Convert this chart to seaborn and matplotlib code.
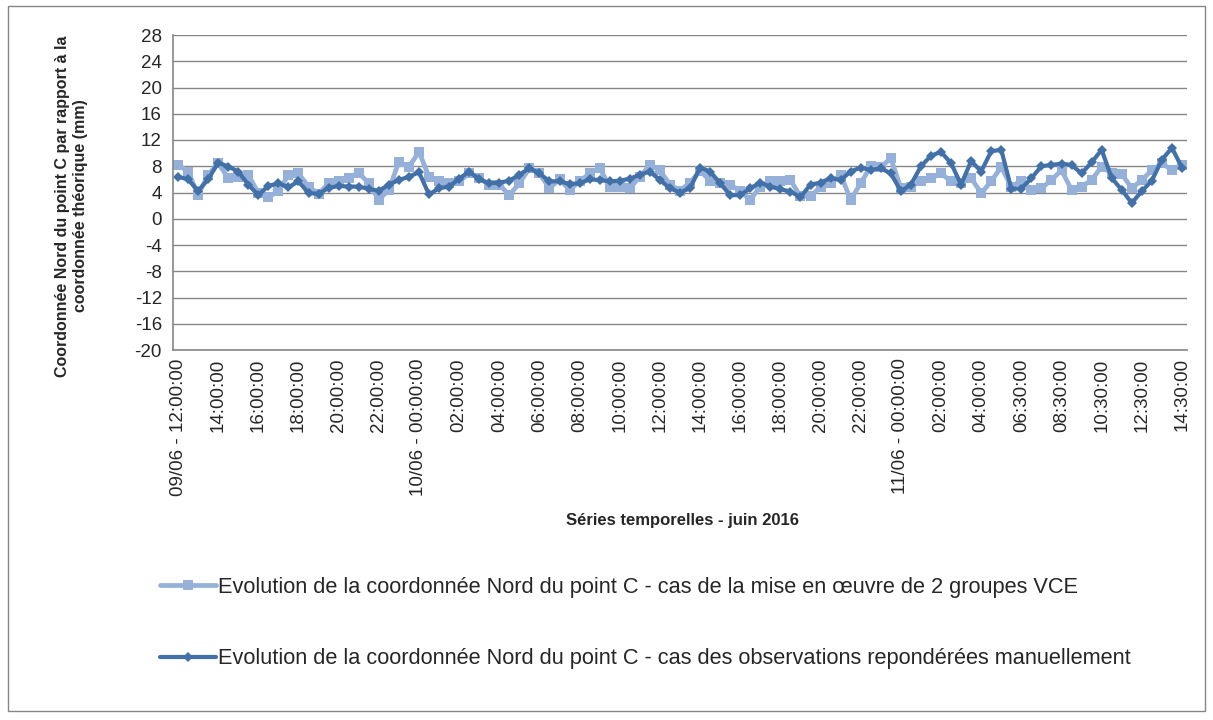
import matplotlib
matplotlib.use("Agg")
import matplotlib.pyplot as plt
from matplotlib.patches import Rectangle
from matplotlib.lines import Line2D
import seaborn as sns
import pandas as pd
import numpy as np

sns.set_style("white")
plt.rcParams["font.family"] = ["Liberation Sans", "DejaVu Sans"]
plt.rcParams["axes.unicode_minus"] = False

# ── Data (mm) ────────────────────────────────────────────────────────────────
times = pd.date_range("2016-06-09 12:00", "2016-06-11 14:30", freq="30min")
times = times.drop(pd.Timestamp("2016-06-11 05:30"))   # missing epoch

nord_vce = [
    8.2, 7.2, 3.6, 6.7, 8.45, 6.2, 6.4, 6.7, 3.9, 3.3,
    4.2, 6.7, 6.9, 4.9, 3.8, 5.4, 5.8, 6.2, 7.0, 5.4,
    2.9, 4.4, 8.7, 7.9, 10.2, 6.4, 5.7, 5.4, 5.7, 6.9,
    6.2, 5.2, 5.2, 3.6, 5.4, 7.7, 6.9, 4.65, 6.0, 4.4,
    5.7, 6.9, 7.7, 4.9, 4.9, 4.65, 6.4, 8.2, 7.4, 5.2,
    4.3, 5.5, 7.3, 5.8, 5.4, 5.2, 4.2, 2.9, 4.9, 5.8,
    5.7, 5.9, 3.4, 3.4, 4.9, 5.4, 6.7, 2.9, 5.4, 8.0,
    7.9, 9.2, 4.65, 4.9, 5.7, 6.2, 6.9, 5.7, 5.4, 6.2,
    3.9, 5.7, 7.9, 4.9, 5.8, 4.4, 4.65, 5.9, 7.4, 4.4,
    4.9, 5.9, 7.95, 6.9, 6.8, 4.65, 5.9, 7.4, 8.45, 7.4,
    8.2,
]
nord_manuel = [
    6.4, 6.0, 4.25, 6.0, 8.55, 7.95, 7.2, 5.2, 3.6, 5.0,
    5.4, 4.8, 5.7, 3.9, 3.8, 4.7, 5.0, 4.9, 4.9, 4.55,
    4.25, 5.2, 5.9, 6.4, 7.1, 3.7, 4.65, 4.9, 6.1, 7.2,
    6.0, 5.4, 5.5, 5.8, 6.7, 7.7, 6.9, 5.7, 5.7, 5.3,
    5.4, 6.0, 5.9, 5.7, 5.8, 6.1, 6.7, 7.2, 5.9, 4.65,
    4.0, 4.65, 7.8, 7.2, 5.4, 3.6, 3.6, 4.65, 5.5, 4.9,
    4.5, 4.15, 3.3, 5.2, 5.5, 6.2, 5.9, 7.2, 7.8, 7.4,
    7.7, 6.9, 4.2, 5.2, 8.0, 9.6, 10.2, 8.45, 5.2, 8.8,
    7.2, 10.3, 10.5, 4.6, 4.6, 6.2, 8.0, 8.2, 8.4, 8.2,
    6.9, 8.6, 10.5, 6.2, 4.4, 2.4, 4.2, 5.8, 9.0, 10.8,
    7.8,
]
label_vce = "Evolution de la coordonnée Nord du point C - cas de la mise en œuvre de 2 groupes VCE"
label_manuel = "Evolution de la coordonnée Nord du point C - cas des observations repondérées manuellement"

df = pd.DataFrame({"pos": np.arange(len(times)), "vce": nord_vce, "manuel": nord_manuel})

col_light = "#95B1D9"
col_dark = "#4270A8"
grid_col = "#868686"

W, H = 1213, 720
fig = plt.figure(figsize=(W / 100, H / 100), dpi=100)
ax = fig.add_axes([173 / W, 1 - 350 / H, (1187 - 173) / W, (350 - 35) / H])

sns.lineplot(data=df, x="pos", y="vce", ax=ax, color=col_light, linewidth=3.4,
             marker="s", markersize=6.5, markeredgewidth=0)
sns.lineplot(data=df, x="pos", y="manuel", ax=ax, color=col_dark, linewidth=3.0,
             marker="D", markersize=5, markeredgewidth=0)

# ── Axes ─────────────────────────────────────────────────────────────────────
ax.set_ylim(-20, 28)
ax.set_yticks(range(-20, 29, 4))
ax.set_xlim(-0.5, len(times) - 0.5)
major = list(range(0, len(times), 4))
ticklabels = []
for i in major:
    t = times[i]
    s = t.strftime("%H:%M:%S")
    if i == 0 or (t.hour == 0 and t.minute == 0):
        s = t.strftime("%d/%m - ") + s
    ticklabels.append(s)
ax.set_xticks(major)
ax.set_xticklabels(ticklabels, rotation=90, va="top", ha="center")
ax.set_xticks(np.arange(-0.5, len(times), 1), minor=True)
ax.tick_params(axis="x", which="major", length=0, pad=6, labelsize=13.5)
ax.tick_params(axis="x", which="minor", length=5, width=1, color=grid_col, direction="out")
ax.tick_params(axis="y", length=5, width=1, color=grid_col, direction="out", pad=3, labelsize=13.5)
ax.yaxis.grid(True, color=grid_col, linewidth=1)
ax.set_axisbelow(True)
for side in ["top", "right"]:
    ax.spines[side].set_visible(False)
for side in ["left", "bottom"]:
    ax.spines[side].set_color(grid_col)
    ax.spines[side].set_linewidth(1.2)
ax.set_xlabel("")
ax.set_ylabel("")

fig.text(682 / W, 1 - 521 / H, "Séries temporelles - juin 2016",
         ha="center", va="center", fontsize=12, fontweight="bold")
fig.text(72 / W, 1 - 206 / H,
         "Coordonnée Nord du point C par rapport à la\ncoordonnée théorique (mm)",
         ha="center", va="center", rotation=90, fontsize=11.5, fontweight="bold",
         multialignment="center", linespacing=1.25)

# ── Legend ───────────────────────────────────────────────────────────────────
h1 = Line2D([], [], color=col_light, linewidth=3.4, marker="s", markersize=6.5, markeredgewidth=0)
h2 = Line2D([], [], color=col_dark, linewidth=3.0, marker="D", markersize=5, markeredgewidth=0)
if ax.get_legend() is not None:
    ax.get_legend().remove()
fig.legend([h1, h2], [label_vce, label_manuel], loc="upper left",
           bbox_to_anchor=(160 / W, 1 - 577 / H), frameon=False, fontsize=15.7,
           handlelength=2.55, handletextpad=0.12, labelspacing=2.3, borderpad=0,
           borderaxespad=0)

fig.patches.append(Rectangle((8 / W, 1 - 711 / H), (1205 - 8) / W, (711 - 6) / H,
                             transform=fig.transFigure, fill=False,
                             edgecolor=grid_col, linewidth=1))

fig.savefig("out.png", dpi=100)
